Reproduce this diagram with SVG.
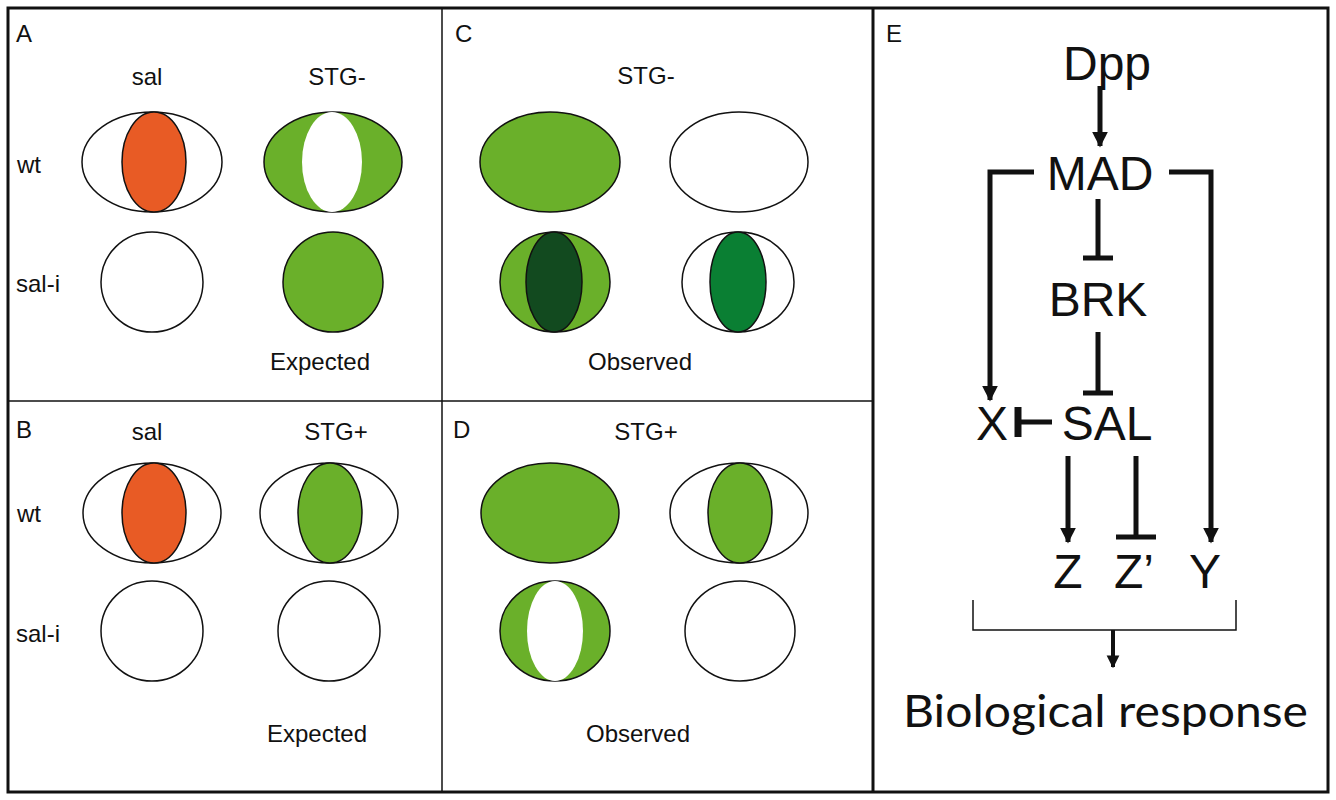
<svg xmlns="http://www.w3.org/2000/svg" width="1336" height="800" viewBox="0 0 1336 800">
<defs>
<style>
text{font-family:"Liberation Sans",Arial,sans-serif;fill:#111}
.s{font-size:24px}
.c{text-anchor:middle}
.e{stroke:#111;stroke-width:1.5}
.g{fill:#6AB02A}.o{fill:#E85B25}.w{fill:#fff}
.big{font-size:48px;text-anchor:middle}
.ln{stroke:#111;stroke-width:5;fill:none}
</style>
<marker id="ah" viewBox="0 0 10 10" refX="9" refY="5" markerWidth="3.2" markerHeight="5" orient="auto" markerUnits="strokeWidth"><path d="M0,0L10,5L0,10z" fill="#111"/></marker>
</defs>
<rect width="1336" height="800" fill="#fff"/>
<g id="frame">
<rect x="8" y="8" width="1320" height="784" fill="none" stroke="#111" stroke-width="3"/>
<line x1="442" y1="8" x2="442" y2="792" stroke="#111" stroke-width="1.5"/>
<line x1="8" y1="401" x2="873" y2="401" stroke="#111" stroke-width="1.5"/>
<line x1="873" y1="8" x2="873" y2="792" stroke="#111" stroke-width="3"/>
</g>
<g id="panelA">
<text x="16" y="42" class="s">A</text>
<text x="147" y="85" class="s c">sal</text>
<text x="337" y="85" class="s c">STG-</text>
<text x="17" y="173" class="s">wt</text>
<text x="16" y="292" class="s">sal-i</text>
<ellipse cx="152" cy="162" rx="70" ry="50" class="e w"/>
<ellipse cx="154" cy="162" rx="32" ry="50" class="e o"/>
<ellipse cx="333" cy="162" rx="69" ry="50" class="e g"/>
<ellipse cx="332" cy="162" rx="30" ry="50" class="w"/>
<ellipse cx="152" cy="282" rx="51" ry="50" class="e w"/>
<ellipse cx="333" cy="282" rx="50" ry="50" class="e g"/>
<text x="320" y="370" class="s c">Expected</text>
</g>
<g id="panelC">
<text x="455" y="42" class="s">C</text>
<text x="646" y="84" class="s c">STG-</text>
<ellipse cx="550" cy="162" rx="70" ry="50" class="e g"/>
<ellipse cx="739" cy="162" rx="69" ry="50" class="e w"/>
<ellipse cx="555" cy="282" rx="55" ry="50" class="e g"/>
<ellipse cx="554" cy="282" rx="28" ry="50" class="e" fill="#124A1F"/>
<ellipse cx="738" cy="282" rx="56" ry="50" class="e w"/>
<ellipse cx="738" cy="282" rx="28" ry="50" class="e" fill="#0A7F33"/>
<text x="640" y="370" class="s c">Observed</text>
</g>
<g id="panelB">
<text x="16" y="438" class="s">B</text>
<text x="147" y="440" class="s c">sal</text>
<text x="336" y="440" class="s c">STG+</text>
<text x="17" y="522" class="s">wt</text>
<text x="16" y="642" class="s">sal-i</text>
<ellipse cx="152" cy="513" rx="69" ry="50" class="e w"/>
<ellipse cx="154" cy="513" rx="32" ry="50" class="e o"/>
<ellipse cx="329" cy="513" rx="69" ry="50" class="e w"/>
<ellipse cx="330" cy="513" rx="32" ry="50" class="e g"/>
<ellipse cx="152" cy="631" rx="51" ry="50" class="e w"/>
<ellipse cx="329" cy="631" rx="51" ry="50" class="e w"/>
<text x="317" y="742" class="s c">Expected</text>
</g>
<g id="panelD">
<text x="453" y="438" class="s">D</text>
<text x="646" y="440" class="s c">STG+</text>
<ellipse cx="550" cy="513" rx="69" ry="50" class="e g"/>
<ellipse cx="739" cy="513" rx="69" ry="50" class="e w"/>
<ellipse cx="740" cy="513" rx="32" ry="50" class="e g"/>
<ellipse cx="555" cy="631" rx="55" ry="50" class="e g"/>
<ellipse cx="555" cy="631" rx="28" ry="50" class="w"/>
<ellipse cx="740" cy="631" rx="55" ry="50" class="e w"/>
<text x="638" y="742" class="s c">Observed</text>
</g>
<g id="panelE-nodes">
<text x="886" y="42" class="s">E</text>
<text id="Dpp" x="1107" y="80" class="big">Dpp</text>
<text id="MAD" x="1100" y="190" class="big">MAD</text>
<text id="BRK" x="1098" y="316" class="big">BRK</text>
<text id="X" x="992" y="440" class="big">X</text>
<text id="SAL" x="1107" y="440" class="big">SAL</text>
<text id="Z" x="1068" y="588" class="big">Z</text>
<text id="Z2" x="1134" y="588" class="big">Z’</text>
<text id="Y" x="1205" y="588" class="big">Y</text>
<text id="resp" x="903" y="727" textLength="405" lengthAdjust="spacingAndGlyphs" style="font-family:Lato,'Open Sans',sans-serif;font-size:45px">Biological response</text>
</g>
<g id="connectors">
<line x1="1100" y1="86" x2="1100" y2="146" class="ln" marker-end="url(#ah)" stroke-width="4"/>
<polyline points="1034,172 990,172 990,400" class="ln" marker-end="url(#ah)"/>
<polyline points="1169,172 1211,172 1211,542" class="ln" marker-end="url(#ah)"/>
<line x1="1098" y1="199" x2="1098" y2="258" class="ln"/>
<line x1="1083" y1="258" x2="1113" y2="258" class="ln"/>
<line x1="1098" y1="332" x2="1098" y2="393" class="ln"/>
<line x1="1083" y1="393" x2="1113" y2="393" class="ln"/>
<line x1="1052" y1="422" x2="1018" y2="422" class="ln"/>
<line x1="1018" y1="407" x2="1018" y2="437" stroke="#111" stroke-width="7"/>
<line x1="1068" y1="456" x2="1068" y2="542" class="ln" marker-end="url(#ah)"/>
<line x1="1136" y1="456" x2="1136" y2="537" class="ln"/>
<line x1="1116" y1="537" x2="1156" y2="537" class="ln"/>
<polyline points="973,600 973,630 1236,630 1236,600" fill="none" stroke="#111" stroke-width="1.5"/>
<line x1="1113" y1="630" x2="1113" y2="667" stroke="#111" stroke-width="4" marker-end="url(#ah)"/>
</g>
</svg>
